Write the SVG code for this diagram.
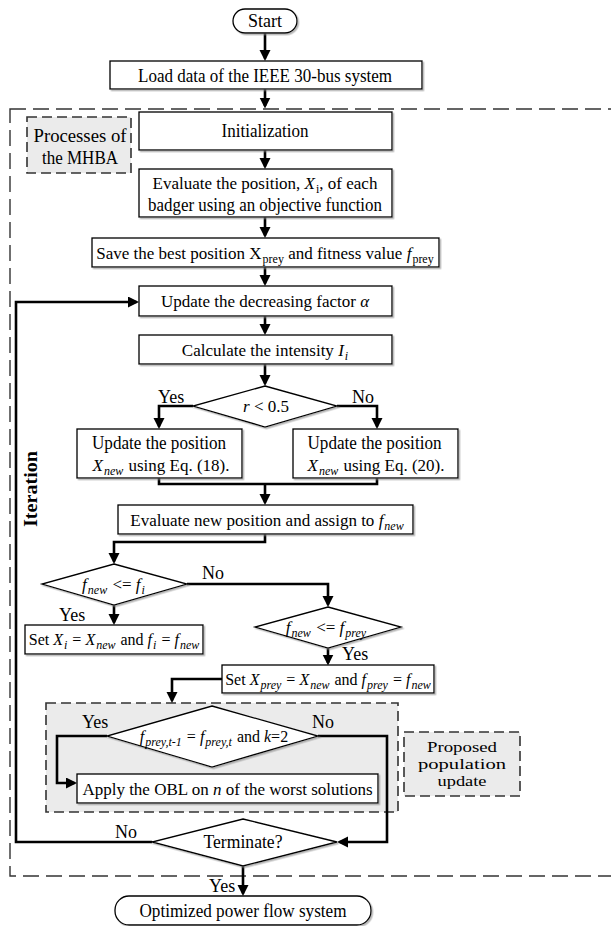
<svg xmlns="http://www.w3.org/2000/svg" width="611" height="926" viewBox="0 0 611 926">
<defs>
<filter id="sh" x="-5%" y="-5%" width="115%" height="130%"><feDropShadow dx="1.5" dy="1.5" stdDeviation="0.7" flood-color="#888" flood-opacity="0.6"/></filter>
<marker id="ah" markerUnits="userSpaceOnUse" markerWidth="12" markerHeight="12" refX="8.5" refY="5.5" orient="auto"><path d="M0,0 L11,5.5 L0,11 z" fill="#000"/></marker>
<style>
.box{fill:#fff;stroke:#000;stroke-width:1.3;filter:url(#sh)}
.gbox{fill:#ebebeb;stroke:#333;stroke-width:1.6;stroke-dasharray:10 5}
.t{font-family:"Liberation Serif","Times New Roman",serif;font-size:18px;fill:#000}
.u{font-size:17px}
.v{font-size:16px}
.p{font-size:14.5px}
.m{text-anchor:middle}
.i{font-style:italic}
.s{font-size:12px}
.c{fill:none;stroke:#000;stroke-width:2.6}
.a{marker-end:url(#ah)}
</style>
</defs>
<rect x="10" y="109" width="620" height="767" fill="none" stroke="#333" stroke-width="1.4" stroke-dasharray="16 7"/>
<g id="proc-label"><rect class="gbox" x="27" y="117" width="104" height="56"/><text class="t m" x="80" y="142" textLength="93" lengthAdjust="spacingAndGlyphs">Processes of</text><text class="t m" x="80" y="164" textLength="76" lengthAdjust="spacingAndGlyphs">the MHBA</text></g>
<g id="prop-area"><rect class="gbox" x="46" y="703" width="352" height="109"/></g>
<g id="prop-label"><rect class="gbox" x="404" y="732" width="116" height="64"/><text class="t p m" x="462" y="752" textLength="70" lengthAdjust="spacingAndGlyphs">Proposed</text><text class="t p m" x="462" y="769" textLength="88" lengthAdjust="spacingAndGlyphs">population</text><text class="t p m" x="462" y="786" textLength="49" lengthAdjust="spacingAndGlyphs">update</text></g>
<g id="connectors">
<path class="c a" d="M265,33 V58.5"/>
<path class="c a" d="M265,89 V106"/>
<path class="c a" d="M265,150 V166.5"/>
<path class="c a" d="M265,217 V235.5"/>
<path class="c a" d="M265,267 V283.5"/>
<path class="c a" d="M265,316 V332.5"/>
<path class="c a" d="M265,364 V383.5"/>
<path class="c a" d="M193,406 H159 V426.5"/>
<path class="c a" d="M337,406 H377 V426.5"/>
<path class="c" d="M159,478 V484 H377 V478"/>
<path class="c a" d="M265,484 V502.5"/>
<path class="c a" d="M265,534 V542 H114 V561.5"/>
<path class="c a" d="M187,584 H328 V604.5"/>
<path class="c a" d="M114,605 V622.5"/>
<path class="c a" d="M328,648 V663"/>
<path class="c a" d="M222,679 H172 V700.5"/>
<path class="c a" d="M107,736 H57 V783 H74.5"/>
<path class="c a" d="M318,736 H387 V842 H339.5"/>
<path class="c a" d="M152,842 H16 V302 H136.5"/>
<path class="c a" d="M243,866 V893.5"/>
</g>
<g id="start"><rect class="box" x="233" y="9" width="64" height="24" rx="12"/><text class="t m" x="265" y="27" textLength="34" lengthAdjust="spacingAndGlyphs">Start</text></g>
<g id="load"><rect class="box" x="110" y="61" width="312" height="28"/><text class="t m" x="265" y="82" textLength="254" lengthAdjust="spacingAndGlyphs">Load data of the IEEE 30-bus system</text></g>
<g id="init"><rect class="box" x="139" y="112" width="253" height="38"/><text class="t m" x="265" y="137" textLength="87" lengthAdjust="spacingAndGlyphs">Initialization</text></g>
<g id="eval"><rect class="box" x="139" y="169" width="253" height="48"/><text class="t u m" x="265" y="189">Evaluate the position, <tspan class="i">X</tspan><tspan class="s" dx="1" dy="4">i</tspan><tspan dy="-4">, of each</tspan></text><text class="t m" x="265" y="211" textLength="234" lengthAdjust="spacingAndGlyphs">badger using an objective function</text></g>
<g id="save"><rect class="box" x="92" y="238" width="347" height="29"/><text class="t u m" x="265" y="259">Save the best position X<tspan class="s" dx="1" dy="4">prey</tspan><tspan dy="-4"> and fitness value </tspan><tspan class="i">f</tspan><tspan class="s" dx="1" dy="4">prey</tspan></text></g>
<g id="upd-alpha"><rect class="box" x="139" y="286" width="253" height="30"/><text class="t u m" x="265" y="307">Update the decreasing factor <tspan class="i">α</tspan></text></g>
<g id="calc"><rect class="box" x="139" y="335" width="253" height="29"/><text class="t u m" x="265" y="356">Calculate the intensity <tspan class="i">I</tspan><tspan class="i s" dx="1" dy="4">i</tspan></text></g>
<g id="dec-r"><path class="box" d="M265,386 L337,406 L265,427 L193,406 Z"/><text class="t u m" x="266" y="412"><tspan class="i">r</tspan> &lt; 0.5</text><text class="t" x="158" y="403">Yes</text><text class="t" x="352" y="403">No</text></g>
<g id="upd18"><rect class="box" x="77" y="429" width="165" height="49"/><text class="t m" x="159" y="449" textLength="134" lengthAdjust="spacingAndGlyphs">Update the position</text><text class="t u m" x="161" y="471"><tspan class="i">X</tspan><tspan class="i s" dx="1" dy="4">new</tspan><tspan dx="1" dy="-4"> using Eq. (18).</tspan></text></g>
<g id="upd20"><rect class="box" x="293" y="429" width="165" height="49"/><text class="t m" x="374.5" y="449" textLength="134" lengthAdjust="spacingAndGlyphs">Update the position</text><text class="t u m" x="376" y="471"><tspan class="i">X</tspan><tspan class="i s" dx="1" dy="4">new</tspan><tspan dx="1" dy="-4"> using Eq. (20).</tspan></text></g>
<g id="evalnew"><rect class="box" x="118" y="505" width="295" height="29"/><text class="t u m" x="267" y="526">Evaluate new position and assign to <tspan class="i">f</tspan><tspan class="i s" dx="1" dy="4">new</tspan></text></g>
<g id="dec-fi"><path class="box" d="M114,564 L187,584 L114,605 L42,584 Z"/><text class="t u m" x="113.5" y="590"><tspan class="i">f</tspan><tspan class="i s" dx="1" dy="4">new</tspan><tspan dx="1" dy="-4"> &lt;= </tspan><tspan class="i">f</tspan><tspan class="i s" dx="1" dy="4">i</tspan></text><text class="t" x="202" y="579">No</text><text class="t" x="59" y="621">Yes</text></g>
<g id="set-i"><rect class="box" x="25" y="625" width="178" height="29"/><text class="t v m" x="114" y="645">Set <tspan class="i">X</tspan><tspan class="i s" dx="1" dy="4">i</tspan><tspan dx="1" dy="-4"> = </tspan><tspan class="i">X</tspan><tspan class="i s" dx="1" dy="4">new</tspan><tspan dx="1" dy="-4"> and </tspan><tspan class="i">f</tspan><tspan class="i s" dx="1" dy="4">i</tspan><tspan dx="1" dy="-4"> = </tspan><tspan class="i">f</tspan><tspan class="i s" dx="1" dy="4">new</tspan></text></g>
<g id="dec-fprey"><path class="box" d="M328,607 L401,627 L328,648 L255,627 Z"/><text class="t u m" x="326" y="633"><tspan class="i">f</tspan><tspan class="i s" dx="1" dy="4">new</tspan><tspan dx="1" dy="-4"> &lt;= </tspan><tspan class="i">f</tspan><tspan class="i s" dx="1" dy="4">prey</tspan></text><text class="t" x="342" y="660">Yes</text></g>
<g id="set-prey"><rect class="box" x="222" y="665" width="212" height="28"/><text class="t v m" x="328" y="685">Set <tspan class="i">X</tspan><tspan class="i s" dx="1" dy="4">prey</tspan><tspan dx="1" dy="-4"> = </tspan><tspan class="i">X</tspan><tspan class="i s" dx="1" dy="4">new</tspan><tspan dx="1" dy="-4"> and </tspan><tspan class="i">f</tspan><tspan class="i s" dx="1" dy="4">prey</tspan><tspan dx="1" dy="-4"> = </tspan><tspan class="i">f</tspan><tspan class="i s" dx="1" dy="4">new</tspan></text></g>
<g id="dec-k"><path class="box" d="M212,706 L318,736 L212,767 L107,736 Z"/><text class="t v m" x="214" y="742"><tspan class="i">f</tspan><tspan class="i s" dx="1" dy="4">prey,t-1</tspan><tspan dx="1" dy="-4"> = </tspan><tspan class="i">f</tspan><tspan class="i s" dx="1" dy="4">prey,t</tspan><tspan dx="1" dy="-4"> and </tspan><tspan class="i">k</tspan>=2</text><text class="t" x="82" y="728">Yes</text><text class="t" x="312" y="728">No</text></g>
<g id="obl"><rect class="box" x="77" y="774" width="301" height="29"/><text class="t u m" x="227.5" y="795">Apply the OBL on <tspan class="i">n</tspan> of the worst solutions</text></g>
<g id="term"><path class="box" d="M243,819 L337,842 L243,866 L152,842 Z"/><text class="t m" x="243" y="848" textLength="79" lengthAdjust="spacingAndGlyphs">Terminate?</text><text class="t" x="115" y="838">No</text><text class="t" x="209" y="892">Yes</text></g>
<g id="end"><rect class="box" x="115" y="896" width="256" height="29" rx="14"/><text class="t m" x="243" y="917" textLength="207" lengthAdjust="spacingAndGlyphs">Optimized power flow system</text></g>
<text class="t" font-weight="bold" text-anchor="middle" transform="translate(37,489) rotate(-90)" textLength="76" lengthAdjust="spacingAndGlyphs">Iteration</text>
</svg>
